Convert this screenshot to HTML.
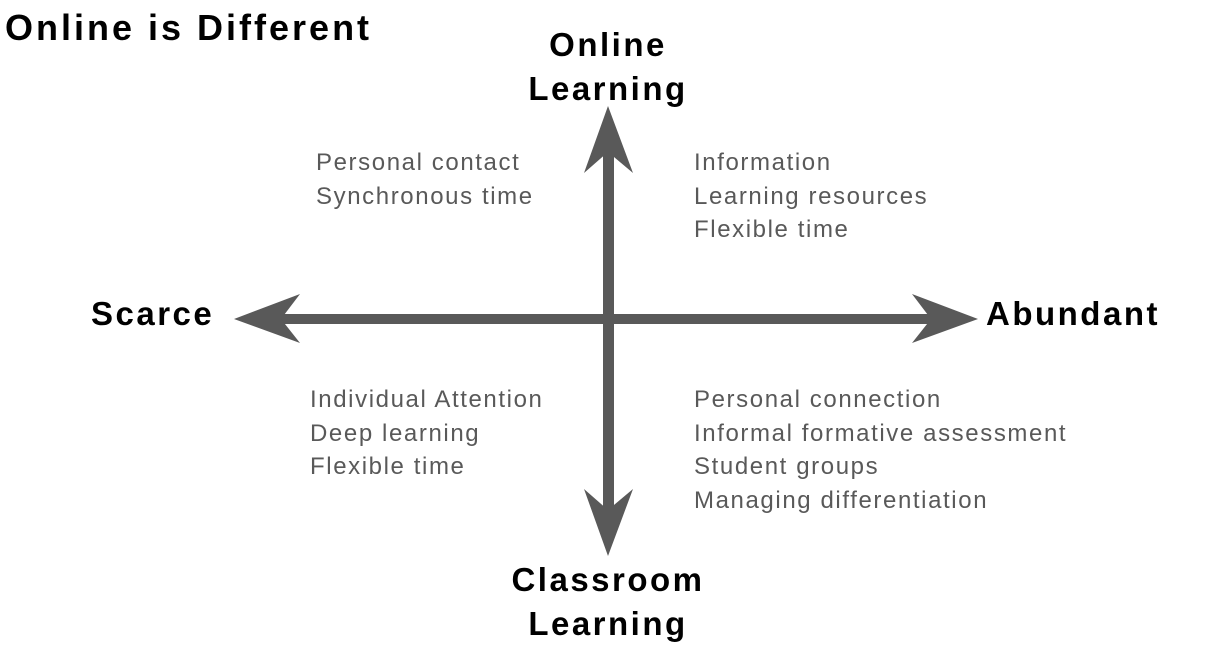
<!DOCTYPE html>
<html><head><style>
body{margin:0;width:1214px;height:665px;background:#fff;position:relative;font-family:"Liberation Sans",Arial,sans-serif;overflow:hidden}
.t{position:absolute;white-space:nowrap}
.b{font-weight:bold;color:#000;font-size:33px;line-height:44px;letter-spacing:2.5px}
.g{color:#595959;font-size:24px;line-height:33.5px;letter-spacing:1.6px}
</style></head><body>
<svg width="1214" height="665" style="position:absolute;left:0;top:0">
<g fill="#595959">
<rect x="603" y="150" width="11" height="362"/>
<rect x="278" y="314" width="655" height="10"/>
<polygon points="608,106 633,173 608,152 584,173"/>
<polygon points="608,556 633,489 608,510 584,489"/>
<polygon points="234,319 300,294 281,319 300,343"/>
<polygon points="978,319 912,294 931,319 912,343"/>
</g></svg>
<div class="t b" style="left:5px;top:6px;font-size:36px;letter-spacing:3px">Online is Different</div>
<div class="t b" style="left:458px;top:23px;width:300px;text-align:center">Online<br>Learning</div>
<div class="t b" style="left:458px;top:558px;width:300px;text-align:center">Classroom<br>Learning</div>
<div class="t b" style="left:91px;top:292px">Scarce</div>
<div class="t b" style="left:986px;top:292px">Abundant</div>
<div class="t g" style="left:316px;top:146px">Personal contact<br>Synchronous time</div>
<div class="t g" style="left:694px;top:146px">Information<br>Learning resources<br>Flexible time</div>
<div class="t g" style="left:310px;top:383px">Individual Attention<br>Deep learning<br>Flexible time</div>
<div class="t g" style="left:694px;top:383px">Personal connection<br>Informal formative assessment<br>Student groups<br>Managing differentiation</div>
</body></html>
